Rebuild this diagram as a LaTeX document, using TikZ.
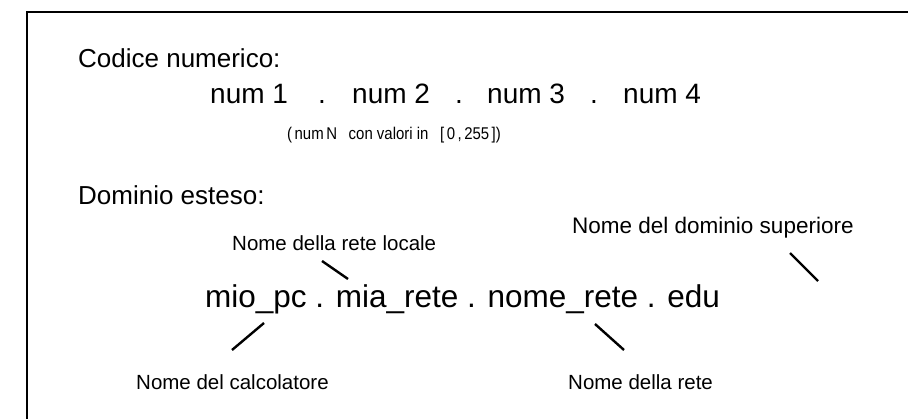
\documentclass[tikz,border=0pt]{standalone}
\usepackage{fontspec}
\setmainfont{Liberation Sans}
\begin{document}
\begin{tikzpicture}[x=1pt,y=-1pt,
  frame/.style={line width=2.2pt},
  pointer/.style={line width=2.4pt},
  txt/.style={inner sep=0pt,anchor=base west},
  head/.style={txt,font=\fontsize{26}{30}\selectfont},
  numf/.style={txt,font=\fontsize{28}{33}\selectfont},
  smallf/.style={txt,font=\fontsize{17}{20}\selectfont},
  bigf/.style={txt,font=\fontsize{31.5}{38}\selectfont},
  lab/.style={txt,font=\fontsize{20.5}{25}\selectfont},
  labbig/.style={txt,font=\fontsize{22.5}{27}\selectfont}]
\useasboundingbox (0,0) rectangle (908,419);
% frame
\coordinate (fbl) at (27,419);
\coordinate (ftl) at (27,12);
\coordinate (ftr) at (908,12);
\draw[frame] (fbl) -- (ftl) -- (ftr);
% headings
\node[head] (codice) at (78,68) {Codice numerico:};
\node[numf] (n1) at (210,104) {num 1};
\node[numf] (d1) at (318,104) {.};
\node[numf] (n2) at (352,104) {num 2};
\node[numf] (d2) at (455,104) {.};
\node[numf] (n3) at (487,104) {num 3};
\node[numf] (d3) at (590,104) {.};
\node[numf] (n4) at (623,104) {num 4};
\node[smallf] (range) at (287,140) {\scalebox{0.88}[1]{(\,num\,N\enspace\ con valori in\enspace\ [\,0\,,\,255\,])}};
\node[head] (dominio) at (78,205) {Dominio esteso:};
\node[bigf] (full) at (205,308) {mio\_pc . mia\_rete . nome\_rete . edu};
% labels
\node[labbig] (sup) at (572,234) {Nome del dominio superiore};
\node[lab] (loc) at (232,251) {Nome della rete locale};
\node[lab] (calc) at (136,390) {Nome del calcolatore};
\node[lab] (rete) at (568,390) {Nome della rete};
% pointers
\coordinate (p1a) at (322,261); \coordinate (p1b) at (348,279);
\coordinate (p2a) at (790,253); \coordinate (p2b) at (818,281);
\coordinate (p3a) at (264,323); \coordinate (p3b) at (232,350);
\coordinate (p4a) at (595,324); \coordinate (p4b) at (624,350);
\draw[pointer] (p1a) -- (p1b);
\draw[pointer] (p2a) -- (p2b);
\draw[pointer] (p3a) -- (p3b);
\draw[pointer] (p4a) -- (p4b);
\end{tikzpicture}
\end{document}
